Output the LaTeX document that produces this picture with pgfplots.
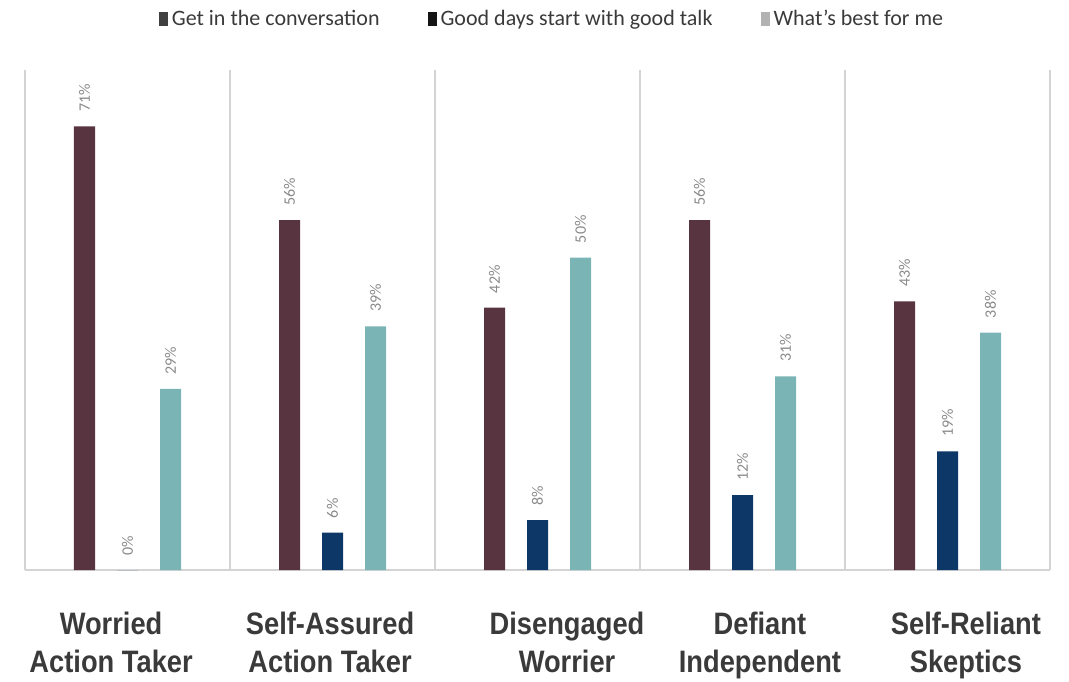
\documentclass[border=0pt]{standalone}
\usepackage{pgfplots}
\pgfplotsset{compat=1.18}
\usepackage{fontspec}
\setmainfont{Carlito}
\newfontfamily\catfont[FakeStretch=0.88]{Liberation Sans}
\definecolor{cMaroon}{HTML}{583441}
\definecolor{cNavy}{HTML}{0C3766}
\definecolor{cTeal}{HTML}{7AB4B4}
\definecolor{cSep}{HTML}{D4D4D4}
\definecolor{cLab}{HTML}{8A8A8A}
\definecolor{cCat}{HTML}{3A3A3A}
\pgfplotstableread{
x conv talk best
0 71 0 29
1 56 6 39
2 42 8 50
3 56 12 31
4 43 19 38
}\datatable
\begin{document}
\begin{tikzpicture}
\path[use as bounding box] (-12.5pt,-55.5pt) rectangle (522pt,285pt);
\begin{axis}[
  at={(0,0)}, anchor=south west,
  scale only axis, width=512.5pt, height=250pt,
  xmin=-0.5, xmax=4.5, ymin=0, ymax=80,
  ybar, bar width=10.5pt,
  axis x line*=bottom, axis y line=none,
  x axis line style={cSep, line width=0.8pt},
  xtick={-0.08,0.988,2.144,3.085,4.09},
  xticklabels={{Worried\\Action Taker},{Self-Assured\\Action Taker},{Disengaged\\Worrier},{Defiant\\Independent},{Self-Reliant\\Skeptics}},
  xticklabel style={align=center, font=\catfont\bfseries\fontsize{15.5}{19}\selectfont, text=cCat, yshift=-17.5pt},
  major tick length=0pt, minor tick length=0pt,
  minor xtick={-0.5,0.5,1.5,2.5,3.5,4.5},
  xminorgrids, minor grid style={cSep, line width=0.8pt},
  ytick=\empty,
  /pgf/number format/assume math mode=true,
  nodes near coords={\pgfmathprintnumber{\pgfplotspointmeta}\%},
  nodes near coords style={rotate=90, anchor=west, font=\fontsize{8}{9}\selectfont, text=cLab, inner xsep=7pt},
  legend style={at={(264pt,275.5pt)}, anchor=center, draw=none, fill=none,
    legend columns=3, font=\fontsize{11}{13}\selectfont, text=cCat,
    /tikz/every even column/.append style={column sep=22pt}},
  legend image code/.code={\fill[#1] (0pt,-3.5pt) rectangle (4.5pt,3.5pt);},
  clip=false,
]
\addplot[fill=cMaroon, draw=none, bar shift=-21.5pt, forget plot] table[x=x, y=conv] {\datatable};
\addplot[fill=cNavy, draw=none, bar shift=0pt, forget plot] table[x=x, y=talk] {\datatable};
\addplot[fill=cTeal, draw=none, bar shift=21.5pt, forget plot] table[x=x, y=best] {\datatable};
\addlegendimage{fill=black!75, draw=none}
\addlegendentry{Get in the conversation}
\addlegendimage{fill=black!92, draw=none}
\addlegendentry{Good days start with good talk}
\addlegendimage{fill=black!30, draw=none}
\addlegendentry{What's best for me}
\end{axis}
\end{tikzpicture}
\end{document}
